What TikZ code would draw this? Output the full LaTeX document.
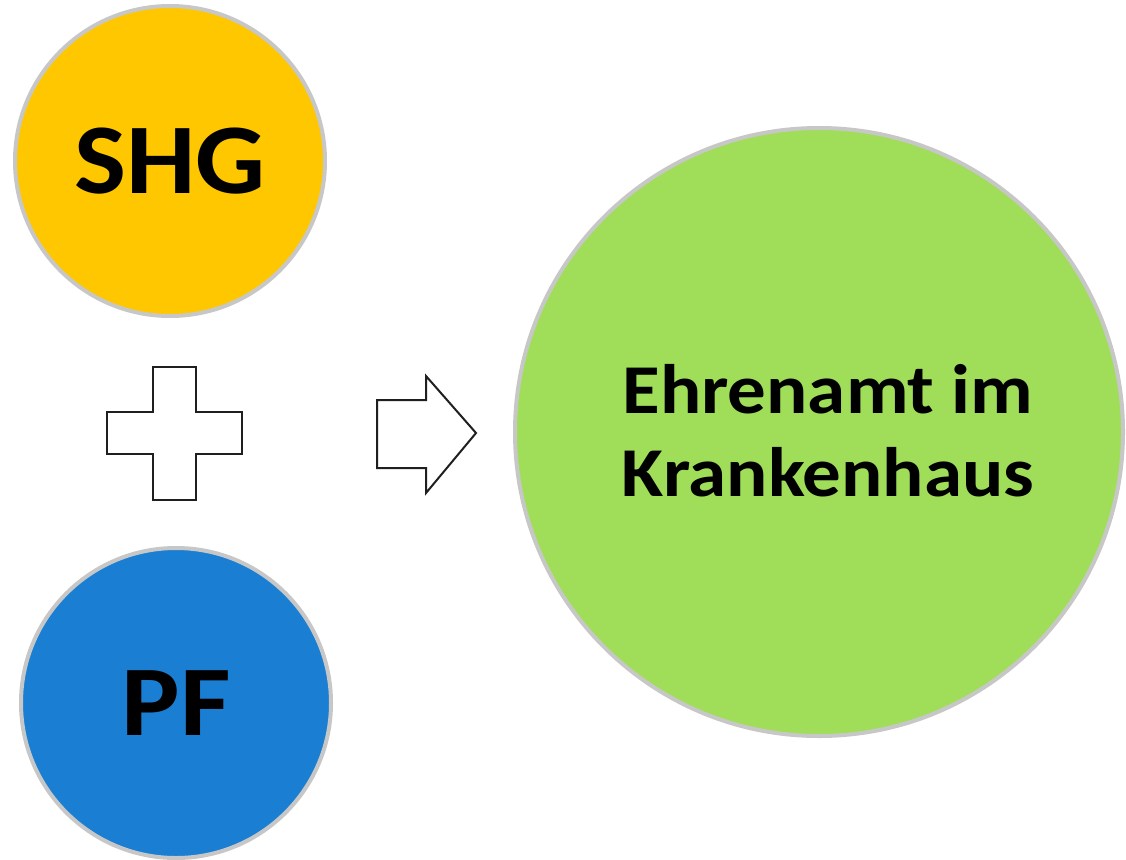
\documentclass[tikz,border=0pt]{standalone}
\usepackage{fontspec}
\setmainfont[FakeStretch=1.1]{Carlito}
\begin{document}
\begin{tikzpicture}[x=1pt,y=-1pt,
  ball/.style={circle, inner sep=0pt, draw=black!22, line width=4pt,
    font=\bfseries, text=black, align=center},
  khfont/.style={font=\fontsize{70}{84}\selectfont\bfseries, inner sep=0pt, anchor=base},
  outline/.style={draw=black!88, line width=2pt, fill=white, line join=miter}]
\definecolor{shgyellow}{RGB}{255,199,0}
\definecolor{pfblue}{RGB}{26,126,210}
\definecolor{kgreen}{RGB}{160,222,90}
\useasboundingbox[fill=white] (0,0) rectangle (1126,859);
\node[ball, fill=shgyellow, minimum size=310pt, font=\fontsize{100}{100}\selectfont\bfseries] (shg) at (170,161) {SHG};
\node[ball, fill=pfblue, minimum size=310pt, font=\fontsize{100}{100}\selectfont\bfseries] (pf) at (176,703) {PF};
\node[ball, fill=kgreen, minimum size=608pt] (kh) at (819,432) {};
\node[khfont] (khline1) at (828,413) {Ehrenamt im};
\node[khfont] (khline2) at (828,496) {Krankenhaus};
\draw[outline] (153,367) -- (196,367) -- (196,412) -- (242,412) -- (242,454) -- (196,454) -- (196,500) -- (153,500) -- (153,454) -- (107,454) -- (107,412) -- (153,412) -- cycle;
\draw[outline] (377,400) -- (426,400) -- (426,376) -- (476,433) -- (426,493) -- (426,468) -- (377,468) -- cycle;
\end{tikzpicture}
\end{document}
